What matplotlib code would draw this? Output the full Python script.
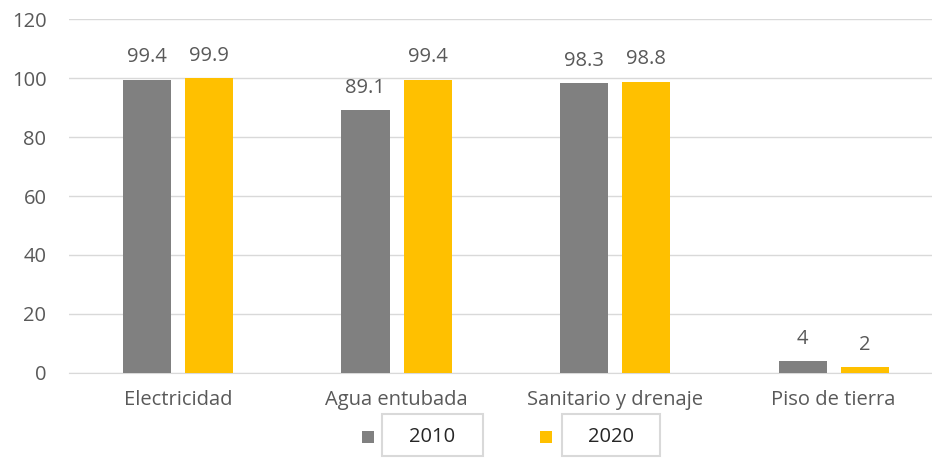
import matplotlib
matplotlib.use("Agg")
import matplotlib.pyplot as plt
import matplotlib.patches as mpatches
import numpy as np

categories = ["Electricidad", "Agua entubada", "Sanitario y drenaje", "Piso de tierra"]
series_names = ["2010", "2020"]
values_2010 = [99.4, 89.1, 98.3, 4]
values_2020 = [99.9, 99.4, 98.8, 2]
value_labels_2010 = ["99.4", "89.1", "98.3", "4"]
value_labels_2020 = ["99.9", "99.4", "98.8", "2"]
y_ticks = [0, 20, 40, 60, 80, 100, 120]

C_GRAY = "#808080"
C_GOLD = "#ffc000"
C_TXT = "#595959"
C_GRID = "#d9d9d9"
FS = 14.5

plt.rcParams["font.family"] = ["Open Sans", "DejaVu Sans"]

fig = plt.figure(figsize=(9.32, 4.58), dpi=100)
ax = fig.add_axes([0.0737, 0.1856, 0.938, 0.7729])

x = np.arange(len(categories))
w = 0.22
off = 0.142
b1 = ax.bar(x - off, values_2010, w, color=C_GRAY, zorder=3)
b2 = ax.bar(x + off, values_2020, w, color=C_GOLD, zorder=3)

for bars, labs in [(b1, value_labels_2010), (b2, value_labels_2020)]:
    for r, lab in zip(bars, labs):
        ax.annotate(lab, (r.get_x() + r.get_width() / 2, r.get_height()),
                    xytext=(0, 9), textcoords="offset points",
                    ha="center", va="bottom", fontsize=FS, color=C_TXT)

ax.set_ylim(0, 120)
ax.set_xlim(-0.5, len(categories) - 0.5)
ax.set_yticks(y_ticks)
ax.set_xticks(x)
ax.set_xticklabels(categories)
ax.tick_params(axis="both", length=0, labelsize=FS, colors=C_TXT)
ax.tick_params(axis="y", pad=16)
ax.tick_params(axis="x", pad=12)
for lab in ax.get_yticklabels():
    lab.set_horizontalalignment("right")
ax.grid(axis="y", color=C_GRID, linewidth=1, zorder=0)
for s in ["top", "right", "left"]:
    ax.spines[s].set_visible(False)
ax.spines["bottom"].set_color(C_GRID)

# legend: small square marker plus a boxed label
W, H = 932.0, 458.0
legend_items = [(series_names[0], C_GRAY, 362, 382, 483),
                (series_names[1], C_GOLD, 540, 562, 660)]
for name, col, sx, bx0, bx1 in legend_items:
    fig.add_artist(mpatches.Rectangle((sx / W, 1 - 443 / H), 12 / W, 12 / H,
                                      transform=fig.transFigure, facecolor=col,
                                      edgecolor="none"))
    fig.add_artist(mpatches.Rectangle((bx0 / W, 1 - 456 / H), (bx1 - bx0) / W, 42 / H,
                                      transform=fig.transFigure, facecolor="white",
                                      edgecolor="#d9d9d9", linewidth=1.5))
    fig.text((bx0 + bx1) / 2 / W, 1 - 437 / H, name, ha="center", va="center",
             fontsize=FS, color="#262626")

fig.savefig("out.png", dpi=100)
